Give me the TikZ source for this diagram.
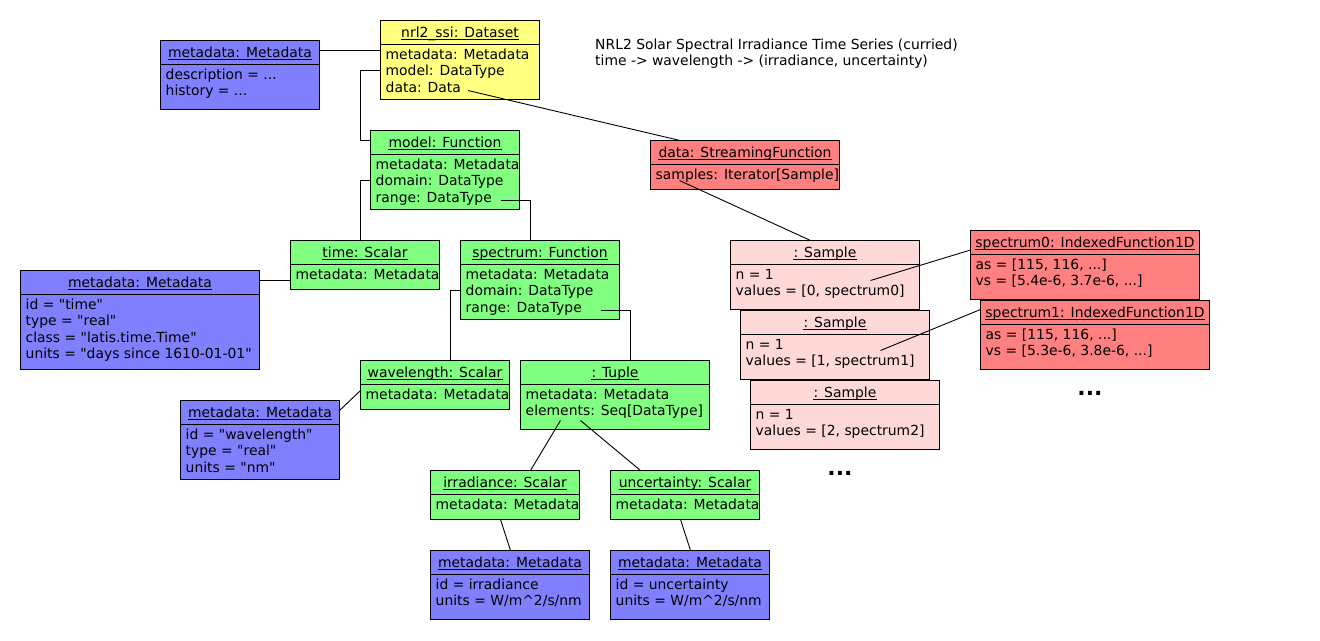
\documentclass[tikz,border=0pt]{standalone}
\usepackage{fontspec}
\setmainfont{DejaVu Sans}[Ligatures=TeXOff]
\usetikzlibrary{calc}
\definecolor{ylw}{HTML}{FFFF80}
\definecolor{grn}{HTML}{80FF80}
\definecolor{blu}{HTML}{8080FF}
\definecolor{rd}{HTML}{FF8080}
\definecolor{pnk}{HTML}{FFD8D8}
\tikzset{
  objbox/.style={draw=black, line width=1pt, inner sep=0pt, outer sep=0pt, anchor=north west, rectangle},
  hdr/.style={anchor=base, inner sep=0pt, font=\fontsize{13.9}{16.5}\selectfont},
  bodytxt/.style={anchor=north west, inner sep=0pt, align=left, font=\fontsize{13.9}{16.5}\selectfont},
  conn/.style={draw=black, line width=0.9pt},
  ulstyle/.style={line width=0.9pt},
  dotstyle/.style={anchor=base, inner sep=0pt, font=\bfseries\fontsize{22}{22}\selectfont}
}
% name, left, top, width, height, fill, header, body
\newcommand{\umlobj}[8]{%
  \node[objbox, fill=#6, minimum width=#4pt, minimum height=#5pt] (#1) at (#2,#3) {};
  \draw[line width=1pt] ([yshift=-24pt]#1.north west) -- ([yshift=-24pt]#1.north east);
  \node[hdr] (#1h) at ([yshift=-17pt]#1.north) {#7};
  \draw[ulstyle] ([yshift=-1.5pt]#1h.base west) -- ([yshift=-1.5pt]#1h.base east);
  \node[bodytxt] (#1b) at ([xshift=5pt,yshift=-27.5pt]#1.north west) {\rule{0pt}{11pt}#8};
}
\begin{document}
\begin{tikzpicture}[x=1pt,y=-1pt]
\useasboundingbox (0,0) rectangle (1320,640);
\fill[white] (0,0) rectangle (1320,640);

\umlobj{mdds}{160.5}{40.5}{159}{69}{blu}{metadata: Metadata}{description = ...\\history = ...}
\umlobj{ds}{380.5}{20.5}{159}{79}{ylw}{nrl2\_ssi: Dataset}{metadata: Metadata\\model: DataType\\data: Data}
\umlobj{modelf}{370.5}{130.5}{149}{79}{grn}{model: Function}{metadata: Metadata\\domain: DataType\\range: DataType}
\umlobj{sf}{650.5}{140.5}{189}{49}{rd}{data: StreamingFunction}{samples: Iterator[Sample]}
\umlobj{time}{290.5}{240.5}{149}{49}{grn}{time: Scalar}{metadata: Metadata}
\umlobj{mdtime}{20.5}{270.5}{239}{99}{blu}{metadata: Metadata}{id = "time"\\type = "real"\\class = "latis.time.Time"\\units = "days since 1610-01-01"}
\umlobj{spec}{460.5}{240.5}{159}{79}{grn}{spectrum: Function}{metadata: Metadata\\domain: DataType\\range: DataType}
\umlobj{wl}{360.5}{360.5}{149}{49}{grn}{wavelength: Scalar}{metadata: Metadata}
\umlobj{tup}{520.5}{360.5}{189}{69}{grn}{: Tuple}{metadata: Metadata\\elements: Seq[DataType]}
\umlobj{mdwl}{180.5}{400.5}{159}{79}{blu}{metadata: Metadata}{id = "wavelength"\\type = "real"\\units = "nm"}
\umlobj{irr}{430.5}{470.5}{149}{49}{grn}{irradiance: Scalar}{metadata: Metadata}
\umlobj{unc}{610.5}{470.5}{149}{49}{grn}{uncertainty: Scalar}{metadata: Metadata}
\umlobj{mdirr}{430.5}{550.5}{159}{69}{blu}{metadata: Metadata}{id = irradiance\\units = W/m\textasciicircum 2/s/nm}
\umlobj{mdunc}{610.5}{550.5}{159}{69}{blu}{metadata: Metadata}{id = uncertainty\\units = W/m\textasciicircum 2/s/nm}
\umlobj{sa}{730.5}{240.5}{189}{69}{pnk}{: Sample}{n = 1\\values = [0, spectrum0]}
\umlobj{sb}{740.5}{310.5}{189}{69}{pnk}{: Sample}{n = 1\\values = [1, spectrum1]}
\umlobj{sc}{750.5}{380.5}{189}{69}{pnk}{: Sample}{n = 1\\values = [2, spectrum2]}
\umlobj{spa}{970.5}{230.5}{229}{69}{rd}{spectrum0: IndexedFunction1D}{as = [115, 116, ...]\\vs = [5.4e-6, 3.7e-6, ...]}
\umlobj{spb}{980.5}{300.5}{229}{69}{rd}{spectrum1: IndexedFunction1D}{as = [115, 116, ...]\\vs = [5.3e-6, 3.8e-6, ...]}

\node[bodytxt] (title) at (595,38) {\rule{0pt}{11pt}NRL2 Solar Spectral Irradiance Time Series (curried)\\time -> wavelength -> (irradiance, uncertainty)};

\node[dotstyle] (dotsa) at (1090,395.5) {...};
\node[dotstyle] (dotsb) at (840,475) {...};

\coordinate (dsdata) at (468,90.5);
\coordinate (mrange) at (500.5,200.5);
\coordinate (srange) at (600.5,310.5);
\coordinate (samp) at (679.5,180.5);
\coordinate (tela) at (560.5,420.5);
\coordinate (telb) at (580.5,420.5);
\coordinate (vala) at (870.5,280.5);
\coordinate (valb) at (880.5,350.5);

\draw[conn] ([yshift=-10pt]mdds.north east) -- ([yshift=-10pt]mdds.north east -| ds.west);
\draw[conn] ([yshift=-50pt]ds.north west) -| ([xshift=-10pt,yshift=-10pt]modelf.north west) -- ([yshift=-10pt]modelf.north west);
\draw[conn] (dsdata) -- ([xshift=29.5pt]sf.north west);
\draw[conn] ([yshift=-50pt]modelf.north west) -| ([xshift=70pt]time.north west);
\draw[conn] (mrange) -| ([xshift=70pt]spec.north west);
\draw[conn] ([yshift=-10pt]mdtime.north east) -- ([yshift=-10pt]mdtime.north east -| time.west);
\draw[conn] ([yshift=-50pt]spec.north west) -| ([xshift=90pt]wl.north west);
\draw[conn] (srange) -| ([xshift=110pt]tup.north west);
\draw[conn] ([yshift=-30pt]wl.north west) -- ([yshift=-10pt]mdwl.north east);
\draw[conn] (tela) -- ([xshift=100pt]irr.north west);
\draw[conn] (telb) -- ([xshift=30pt]unc.north west);
\draw[conn] ([xshift=70pt]irr.south west) -- ([xshift=80pt]mdirr.north west);
\draw[conn] ([xshift=70pt]unc.south west) -- ([xshift=80pt]mdunc.north west);
\draw[conn] (samp) -- ([xshift=80pt]sa.north west);
\draw[conn] (vala) -- ([yshift=-19.5pt]spa.north west);
\draw[conn] (valb) -- ([yshift=-9pt]spb.north west);
\end{tikzpicture}
\end{document}
